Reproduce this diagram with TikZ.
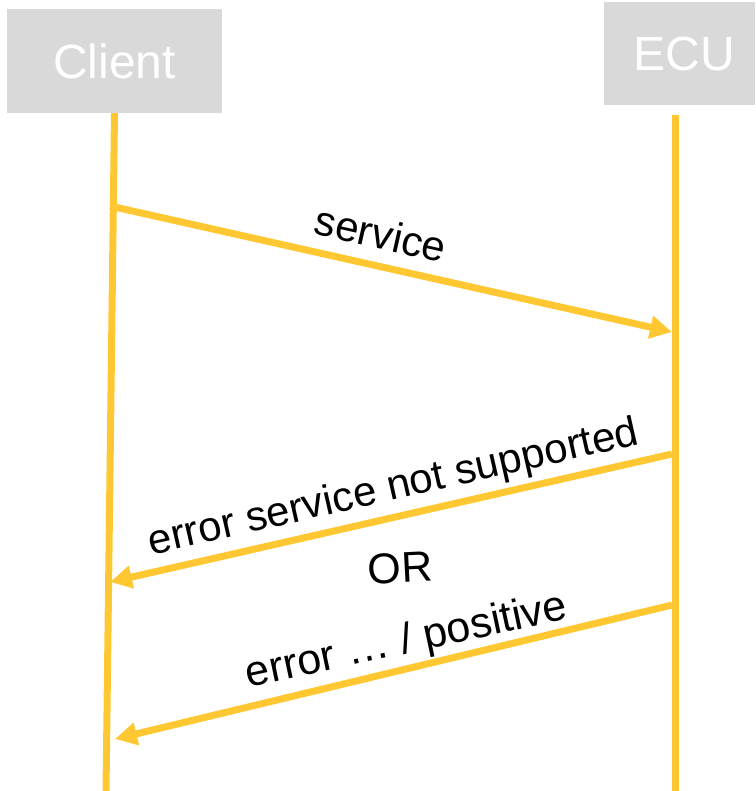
\documentclass[tikz,border=0pt]{standalone}
\usepackage{fontspec}
\setmainfont{Liberation Sans}
\usetikzlibrary{arrows.meta}
\definecolor{lifeyellow}{HTML}{FFC832}
\definecolor{boxgray}{HTML}{D9D9D9}
\begin{document}
\begin{tikzpicture}[x=1pt,y=-1pt,
  actor/.style={fill=boxgray, text=white, font=\fontsize{48}{48}\selectfont, inner sep=0pt, anchor=center},
  lifeline/.style={draw=lifeyellow, line width=7pt},
  msg/.style={draw=lifeyellow, line width=7pt, -{Triangle[length=22pt,width=22pt]}},
  msglabel/.style={font=\fontsize{42}{42}\selectfont, anchor=base, inner sep=0pt}]
\useasboundingbox (0,0) rectangle (755,791);

% participants
\node[actor, minimum width=215pt, minimum height=104pt] (client) at (114.5,61) {Client};
\node[actor, minimum width=151pt, minimum height=103pt] (ecu) at (679.5,53.5) {\hspace*{9pt}ECU};

% lifelines
\coordinate (clientEnd) at (106,791);
\coordinate (ecuTop) at (675,115);
\coordinate (ecuEnd) at (675,791);
\draw[lifeline] (client.south) -- (clientEnd);
\draw[lifeline] (ecuTop) -- (ecuEnd);

% message end points on the lifelines
\coordinate (reqFrom) at (110,206);
\coordinate (reqTo) at (672,332);
\coordinate (nrcFrom) at (672,454);
\coordinate (nrcTo) at (110,582);
\coordinate (posFrom) at (672,605);
\coordinate (posTo) at (115,739);

% messages
\draw[msg] (reqFrom) -- (reqTo);
\draw[msg] (nrcFrom) -- (nrcTo);
\draw[msg] (posFrom) -- (posTo);

% message labels
\node[msglabel, rotate=-12.7] (lblService) at (377.5,248.5) {service};
\node[msglabel, rotate=12.8] (lblNotSupp) at (396,499.5) {error service not supported};
\node[msglabel, font=\fontsize{43}{43}\selectfont, rotate=3] (lblOr) at (401,583) {OR};
\node[msglabel, font=\fontsize{43}{43}\selectfont, rotate=12] (lblPos) at (409,653) {error … / positive};
\end{tikzpicture}
\end{document}
